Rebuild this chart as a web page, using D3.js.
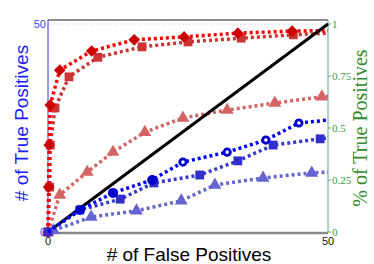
<!DOCTYPE html>
<html>
<head>
<meta charset="utf-8">
<script src="https://cdn.jsdelivr.net/npm/d3@7"></script>
<style>
  body { margin: 0; background: #fff; }
  text { font-family: "Liberation Sans", Arial, sans-serif; }
  .serif { font-family: "Liberation Serif", "Times New Roman", serif; }
</style>
</head>
<body>
<div class="chart"></div>
<script>
// # of false positives (x) vs # of true positives (y), six runs
const redDiamondFp = [0, 0.1, 0.2, 0.4, 2.1, 7.8, 15.4, 24.3, 33.9, 43.6, 50];
const redDiamondTp = [0, 10.8, 20.9, 30.5, 38.9, 43.5, 46.2, 46.9, 47.8, 48.3, 48.4];
const redSquareFp = [0, 0.3, 0.4, 1.25, 3.75, 8.9, 16.8, 25, 34.5, 43.8, 50];
const redSquareTp = [0, 10.8, 20.9, 29.8, 37.3, 42, 44.5, 45.7, 46.6, 47.4, 47.8];
const redTriangleFp = [0, 2.1, 7, 11.6, 17.3, 24.1, 32, 40.5, 48.9, 50];
const redTriangleTp = [0, 8.9, 14.4, 19.2, 24, 27.4, 29.3, 31, 32.5, 32.6];
const blueCircleFp = [0, 5.7, 11.6, 18.6, 24.1, 32, 38.9, 44.8, 50];
const blueCircleTp = [0, 5.3, 9.4, 12.5, 16.8, 19.2, 22.1, 26.2, 26.9];
const blueSquareFp = [0, 5.7, 12.9, 18.9, 27.1, 33.9, 40.2, 48.6, 50];
const blueSquareTp = [0, 5.3, 7.9, 11.8, 13.7, 17.1, 20.9, 22.4, 22.6];
const blueTriangleFp = [1, 7.7, 15.8, 23.8, 29.8, 38.4, 47.1, 50];
const blueTriangleTp = [0.4, 3.6, 5.1, 7.5, 11.3, 13, 14.2, 14.4];
const diagonal = [0, 50];

const xTicks = [0, 50], yTicks = [0, 50], pctTicks = [0, 0.25, 0.5, 0.75, 1];
const pctLabels = ["0", "0.25", "0.5", "0.75", "1"];

const width = 374, height = 264;
const margin = {left: 48, right: 46, top: 24, bottom: 32};

const x = d3.scaleLinear()
    .domain([0, 50])
    .range([margin.left, width - margin.right]);

const y = d3.scaleLinear()
    .domain([0, 50])
    .range([height - margin.bottom, margin.top]);

const yPct = d3.scaleLinear()
    .domain([0, 1])
    .range([height - margin.bottom, margin.top]);

const svg = d3.select(".chart").append("svg")
    .attr("width", width)
    .attr("height", height);

const zip = (fp, tp) => fp.map((v, i) => ({fp: v, tp: tp[i]}));

const line = d3.line()
    .x(d => x(d.fp))
    .y(d => y(d.tp));

// frame
const frameTop = margin.top - 4;
svg.append("line")
    .attr("x1", x(0)).attr("x2", x(50))
    .attr("y1", y(50)).attr("y2", y(50))
    .attr("stroke", "#b8b8ee")
    .attr("stroke-width", 1)
    .attr("stroke-dasharray", "1,2");

svg.append("line")
    .attr("x1", x(0)).attr("x2", x(50))
    .attr("y1", frameTop).attr("y2", frameTop)
    .attr("stroke", "#666")
    .attr("stroke-width", 1.5);

svg.append("line")
    .attr("x1", x(0)).attr("x2", x(50))
    .attr("y1", y(0) + 1).attr("y2", y(0) + 1)
    .attr("stroke", "#888")
    .attr("stroke-width", 2.5);

svg.append("line")
    .attr("x1", x(50)).attr("x2", x(50))
    .attr("y1", frameTop).attr("y2", y(0))
    .attr("stroke", "#6a9e86")
    .attr("stroke-width", 1);

svg.append("line")
    .attr("x1", x(0)).attr("x2", x(0))
    .attr("y1", frameTop).attr("y2", y(0))
    .attr("stroke", "#3333ff")
    .attr("stroke-width", 1);

// left ticks
svg.selectAll("text.ytick")
    .data(yTicks)
  .enter().append("text")
    .attr("class", "ytick")
    .attr("x", x(0) - 2)
    .attr("y", d => y(d))
    .attr("dy", "0.35em")
    .attr("text-anchor", "end")
    .attr("font-size", 11)
    .attr("fill", "#4444ff")
    .text(d => d);

// bottom ticks
svg.selectAll("text.xtick")
    .data(xTicks)
  .enter().append("text")
    .attr("class", "xtick")
    .attr("x", d => x(d))
    .attr("y", y(0) + 13)
    .attr("text-anchor", "middle")
    .attr("font-size", 11)
    .attr("fill", "#111")
    .text(d => d);

// right ticks
svg.selectAll("line.ptick")
    .data(pctTicks)
  .enter().append("line")
    .attr("class", "ptick")
    .attr("x1", x(50)).attr("x2", x(50) + 3)
    .attr("y1", d => yPct(d)).attr("y2", d => yPct(d))
    .attr("stroke", "#6a9e86");

svg.selectAll("text.ptick")
    .data(pctTicks)
  .enter().append("text")
    .attr("class", "ptick serif")
    .attr("x", x(50) + 4)
    .attr("y", d => yPct(d))
    .attr("dy", "0.35em")
    .attr("font-size", 11)
    .attr("fill", "#3a9a3a")
    .text((d, i) => pctLabels[i]);

// titles
svg.append("text")
    .attr("transform", "translate(" + [28, 123] + ") rotate(-90)")
    .attr("text-anchor", "middle")
    .attr("font-size", 19)
    .attr("fill", "#1a1aff")
    .text("# of True Positives");

svg.append("text")
    .attr("class", "serif")
    .attr("transform", "translate(" + [367, 128] + ") rotate(-90)")
    .attr("text-anchor", "middle")
    .attr("font-size", 20)
    .attr("fill", "#2e8b2e")
    .text("% of True Positives");

svg.append("text")
    .attr("x", 189)
    .attr("y", 261)
    .attr("text-anchor", "middle")
    .attr("font-size", 19)
    .attr("fill", "#000")
    .text("# of False Positives");

const series = [
  {fp: redTriangleFp, tp: redTriangleTp, line: "#d46464", mark: "#d46464", shape: "triangle"},
  {fp: redSquareFp, tp: redSquareTp, line: "#cc3333", mark: "#cc3333", shape: "square"},
  {fp: redDiamondFp, tp: redDiamondTp, line: "#ff0000", mark: "#cc0000", shape: "diamond"},
  {diag: true},
  {fp: blueTriangleFp, tp: blueTriangleTp, line: "#6666cc", mark: "#6464d0", shape: "triangle"},
  {fp: blueSquareFp, tp: blueSquareTp, line: "#3838cc", mark: "#3030c8", shape: "square"},
  {fp: blueCircleFp, tp: blueCircleTp, line: "#0000ff", mark: "#0000cc", shape: "circle"}
];

const symbols = {
  triangle: d3.symbol().type(d3.symbolTriangle).size(72)(),
  square: d3.symbol().type(d3.symbolSquare).size(78)(),
  diamond: d3.symbol().type(d3.symbolSquare).size(68)()
};

series.forEach(s => {
  if (s.diag){
    svg.append("line")
        .attr("x1", x(diagonal[0])).attr("y1", y(diagonal[0]))
        .attr("x2", x(diagonal[1])).attr("y2", y(diagonal[1]))
        .attr("stroke", "#000")
        .attr("stroke-width", 3);
    return;
  }
  const pts = zip(s.fp, s.tp);

  svg.append("path")
      .attr("d", line(pts))
      .attr("fill", "none")
      .attr("stroke", s.line)
      .attr("stroke-width", 3.5)
      .attr("stroke-dasharray", "3,3");

  const marks = pts.filter(d => d.fp < 50);

  if (s.shape === "circle"){
    svg.selectAll(null)
        .data(marks.filter(d => d.fp > 0))
      .enter().append("circle")
        .attr("cx", d => x(d.fp))
        .attr("cy", d => y(d.tp))
        .attr("r", d => d.fp < 20 ? 5 : 3.2)
        .attr("fill", d => d.fp < 20 ? s.mark : "#fff")
        .attr("stroke", s.mark)
        .attr("stroke-width", d => d.fp < 20 ? 0 : 2.8);
  } else {
    svg.selectAll(null)
        .data(marks)
      .enter().append("path")
        .attr("d", symbols[s.shape])
        .attr("transform", d => "translate(" + [x(d.fp), y(d.tp)] + ")" + (s.shape === "diamond" ? " rotate(45)" : ""))
        .attr("fill", s.mark);
  }
});
</script>
</body>
</html>
